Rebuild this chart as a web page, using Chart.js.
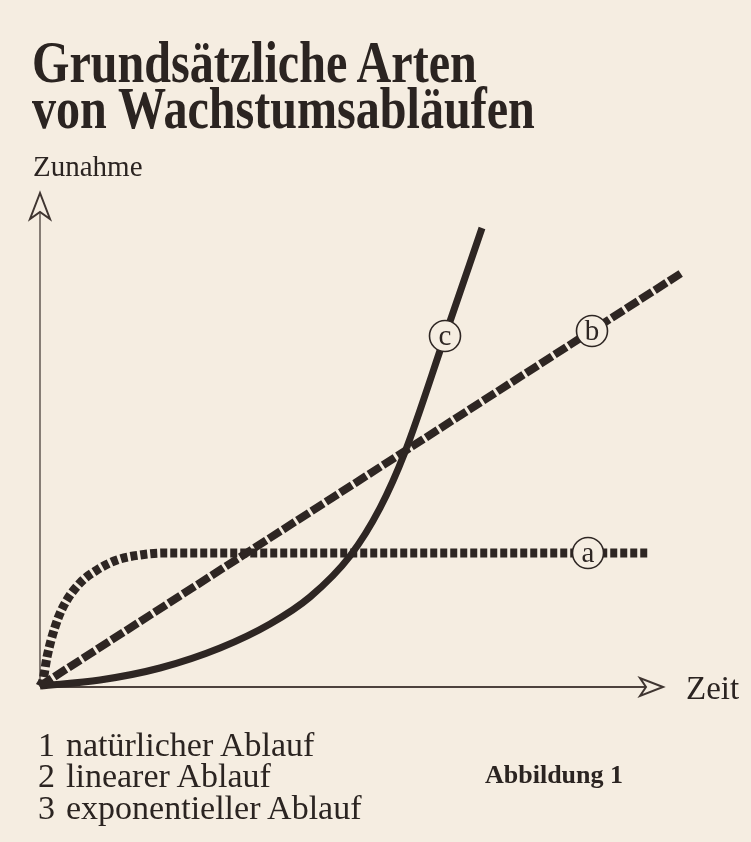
<!DOCTYPE html>
<html>
<head>
<meta charset="utf-8">
<script src="https://cdn.jsdelivr.net/npm/chart.js@4/dist/chart.umd.min.js"></script>
<style>
  html, body { margin:0; padding:0; }
  body { width:751px; height:842px; background:#f5ede1; position:relative; overflow:hidden;
         font-family:"Liberation Serif","DejaVu Serif",serif; color:#2b2421; }
  #wrap { position:absolute; left:0; top:0; width:751px; height:842px; }
  .t { position:absolute; white-space:pre; line-height:1; transform-origin:0 0; }
</style>
</head>
<body>
<div id="wrap"><canvas id="c" width="751" height="842"></canvas></div>
<div class="t" style="left:32px;top:33px;font-size:59px;font-weight:bold;transform:scaleX(0.815);">Grundsätzliche Arten</div>
<div class="t" style="left:32px;top:79px;font-size:59px;font-weight:bold;transform:scaleX(0.815);">von Wachstumsabläufen</div>
<div class="t" style="left:33px;top:152px;font-size:29px;">Zunahme</div>
<div class="t" style="left:686px;top:672px;font-size:33px;">Zeit</div>
<div class="t" style="left:38px;top:728px;font-size:34px;">1</div>
<div class="t" style="left:66px;top:728px;font-size:34px;">natürlicher Ablauf</div>
<div class="t" style="left:38px;top:759px;font-size:34px;">2</div>
<div class="t" style="left:66px;top:759px;font-size:34px;">linearer Ablauf</div>
<div class="t" style="left:38px;top:791px;font-size:34px;">3</div>
<div class="t" style="left:66px;top:791px;font-size:34px;">exponentieller Ablauf</div>
<div class="t" style="left:485px;top:762px;font-size:26px;font-weight:bold;">Abbildung 1</div>
<script>
// ---- data (time units / growth units) ----
const naturalX = [0, 0.3, 0.7, 1.5, 2.3, 4.0, 5.7, 7.7, 10.0, 12.3, 20.0, 60.8];
const naturalY = [0, 0.6, 2.9, 5.9, 7.9, 10.3, 11.6, 12.6, 13.1, 13.3, 13.3, 13.3];
const linearX  = [0, 64.3];
const linearY  = [0, 41.4];
const expoX    = [0, 6, 12, 18, 23, 27, 31, 34, 36.5, 40.5, 44.2];
const expoY    = [0, 0.6, 1.8, 3.8, 6.2, 8.9, 13.0, 17.8, 23.4, 35.0, 45.8];
const labelText = ["a", "b", "c"];
const labelX    = [54.8, 55.2, 40.5];
const labelY    = [13.3, 35.5, 35.0];
const axisEndX = 62.3;   // x-axis arrow tip
const axisEndY = 49.3;   // y-axis arrow tip

const INK = "#2e2623";
const PAPER = "#f5ede1";
const pts = (xs, ys) => xs.map((x, i) => ({x, y: ys[i]}));

const axesPlugin = {
  id: "axesArrows",
  beforeDatasetsDraw(chart) {
    const {ctx, scales:{x, y}} = chart;
    const x0 = x.getPixelForValue(0), y0 = y.getPixelForValue(0);
    const xe = x.getPixelForValue(axisEndX), ye = y.getPixelForValue(axisEndY);
    ctx.save();
    ctx.strokeStyle = "#4d423d";
    ctx.lineWidth = 2;
    ctx.beginPath(); ctx.moveTo(x0, y0 + 1); ctx.lineTo(xe - 18, y0 + 1); ctx.stroke();
    ctx.lineWidth = 1.6;
    ctx.strokeStyle = "#6a605a";
    ctx.beginPath(); ctx.moveTo(x0, y0 + 1); ctx.lineTo(x0, ye + 18); ctx.stroke();
    ctx.lineWidth = 2;
    ctx.strokeStyle = "#3f3531";
    ctx.fillStyle = PAPER;
    ctx.beginPath();
    ctx.moveTo(xe, y0 + 1); ctx.lineTo(xe - 23, y0 - 8); ctx.lineTo(xe - 17, y0 + 1); ctx.lineTo(xe - 23, y0 + 10); ctx.closePath();
    ctx.fill(); ctx.stroke();
    ctx.beginPath();
    ctx.moveTo(x0, ye); ctx.lineTo(x0 - 10, ye + 26); ctx.lineTo(x0, ye + 19); ctx.lineTo(x0 + 10, ye + 26); ctx.closePath();
    ctx.fill(); ctx.stroke();
    ctx.restore();
  }
};

const labelPlugin = {
  id: "circleLabels",
  afterDatasetsDraw(chart) {
    const {ctx, scales:{x, y}} = chart;
    ctx.save();
    labelText.forEach((t, i) => {
      const px = x.getPixelForValue(labelX[i]), py = y.getPixelForValue(labelY[i]);
      ctx.beginPath(); ctx.arc(px, py, 15.5, 0, Math.PI * 2);
      ctx.fillStyle = PAPER; ctx.fill();
      ctx.lineWidth = 1.6; ctx.strokeStyle = INK; ctx.stroke();
      ctx.fillStyle = INK;
      ctx.font = "29px 'Liberation Serif', serif";
      ctx.textAlign = "center"; ctx.textBaseline = "middle";
      ctx.fillText(t, px, py + 1);
    });
    ctx.restore();
  }
};

new Chart(document.getElementById("c"), {
  type: "line",
  data: {
    datasets: [
      { label: "1 natürlicher Ablauf", data: pts(naturalX, naturalY), borderColor: INK, borderWidth: 9,
        borderDash: [7, 3], borderCapStyle: "butt", cubicInterpolationMode: "monotone", pointRadius: 0, clip: 12 },
      { label: "2 linearer Ablauf", data: pts(linearX, linearY), borderColor: INK, borderWidth: 8,
        borderDash: [14, 3], borderCapStyle: "butt", tension: 0, pointRadius: 0, clip: 12 },
      { label: "2 linearer Ablauf (Muster)", data: pts(linearX, linearY), borderColor: "rgba(245,237,225,0.95)", borderWidth: 1.3,
        borderDash: [6, 11], borderDashOffset: 9, tension: 0, pointRadius: 0, clip: 12 },
      { label: "3 exponentieller Ablauf", data: pts(expoX, expoY), borderColor: INK, borderWidth: 7,
        borderCapStyle: "butt", cubicInterpolationMode: "monotone", pointRadius: 0, clip: 12 }
    ]
  },
  options: {
    responsive: false,
    animation: false,
    events: [],
    layout: { padding: { left: 40, right: 61, top: 186, bottom: 156 } },
    scales: {
      x: { type: "linear", min: 0, max: 65, display: false },
      y: { type: "linear", min: 0, max: 50, display: false }
    },
    plugins: { legend: { display: false }, tooltip: { enabled: false }, title: { display: false } }
  },
  plugins: [axesPlugin, labelPlugin]
});
</script>
</body>
</html>
